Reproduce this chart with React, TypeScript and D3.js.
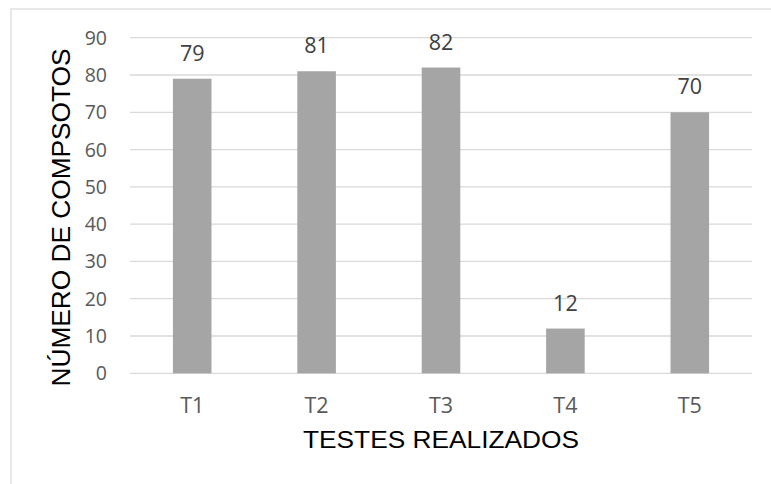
import React from "react";
import * as d3 from "d3";

const categories = ["T1", "T2", "T3", "T4", "T5"];
const values = [79, 81, 82, 12, 70];
const yTicks = [0, 10, 20, 30, 40, 50, 60, 70, 80, 90];
const yTitle = "NÚMERO DE COMPSOTOS";
const xTitle = "TESTES REALIZADOS";

export default function App() {
  const W = 771, H = 484;
  const left = 130, right = 752, top = 37.7, bottom = 373.3;
  const x = d3.scaleBand<string>().domain(categories).range([left, right]).paddingInner(0.69).paddingOuter(0.345);
  const y = d3.scaleLinear().domain([0, 90]).range([bottom, top]);
  const tickFont = "'Open Sans', sans-serif";
  const titleFont = "'Liberation Sans', Arial, sans-serif";
  return (
    <svg width={W} height={H} style={{ position: "absolute", left: 0, top: 0 }}>
      <rect x={0} y={0} width={W} height={H} fill="#fff" />
      <rect x={11} y={9} width={W + 20} height={H + 20} fill="none" stroke="#d9d9d9" strokeWidth={1.2} />
      {yTicks.map((t) => (
        <g key={t}>
          <line x1={left} x2={right} y1={y(t)} y2={y(t)} stroke="#d9d9d9" strokeWidth={1.3} />
          <text x={107} y={y(t)} dy="0.36em" textAnchor="end" fontFamily={tickFont} fontSize={19.5} fill="#595959">{t}</text>
        </g>
      ))}
      {categories.map((c, i) => (
        <g key={c}>
          <rect x={x(c)} y={y(values[i])} width={x.bandwidth()} height={y(0) - y(values[i])} fill="#a5a5a5" />
          <text x={(x(c) as number) + x.bandwidth() / 2} y={y(values[i]) - 18} textAnchor="middle" fontFamily={tickFont} fontSize={21.5} fill="#404040">{values[i]}</text>
          <text x={(x(c) as number) + x.bandwidth() / 2} y={412.7} textAnchor="middle" fontFamily={tickFont} fontSize={21.5} fill="#595959">{c}</text>
        </g>
      ))}
      <text x={441} y={448} textAnchor="middle" fontFamily={titleFont} fontSize={24.5} textLength={276} lengthAdjust="spacingAndGlyphs" fill="#000">{xTitle}</text>
      <text transform={`translate(70,217.5) rotate(-90)`} textAnchor="middle" fontFamily={titleFont} fontSize={25} textLength={338} lengthAdjust="spacingAndGlyphs" fill="#000">{yTitle}</text>
    </svg>
  );
}
